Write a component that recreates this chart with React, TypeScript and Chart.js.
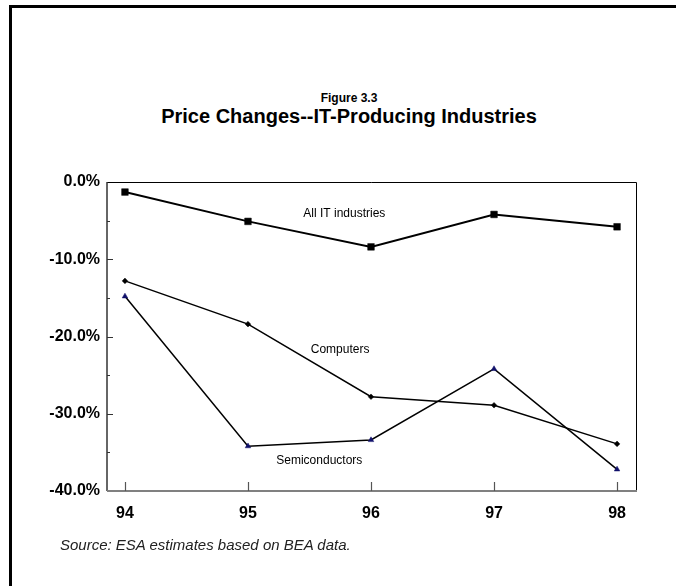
import React, { useEffect, useRef } from "react";
import { Chart, registerables } from "chart.js";

Chart.register(...registerables);

// ---- data ----
const years = [94, 95, 96, 97, 98];
const allIT = [-1.3, -5.1, -8.4, -4.2, -5.8];
const computers = [-12.8, -18.4, -27.8, -28.9, -33.9];
const semiconductors = [-14.8, -34.2, -33.4, -24.2, -37.2];
const yTickValues = [0, -10, -20, -30, -40];
const yMinorTicks = [-5, -15, -25, -35];
const seriesNames = ["All IT industries", "Computers", "Semiconductors"];

const FONT = "'Liberation Sans', Arial, Helvetica, sans-serif";

const decorPlugin = {
  id: "decor",
  beforeDatasetsDraw(chart: any) {
    const { ctx, chartArea: a, scales } = chart;
    const xs = scales.x;
    const ys = scales.y;
    ctx.save();
    // top & right frame of plot
    ctx.strokeStyle = "#000";
    ctx.lineWidth = 1;
    ctx.beginPath();
    ctx.moveTo(a.left, Math.round(a.top) + 0.5);
    ctx.lineTo(Math.round(a.right) + 0.5, Math.round(a.top) + 0.5);
    ctx.lineTo(Math.round(a.right) + 0.5, a.bottom);
    ctx.stroke();
    // y axis line
    ctx.strokeStyle = "#333";
    ctx.lineWidth = 1.5;
    ctx.beginPath();
    ctx.moveTo(a.left, a.top);
    ctx.lineTo(a.left, a.bottom);
    ctx.stroke();
    // y ticks (inside)
    ctx.lineWidth = 1;
    const drawYTick = (v: number, len: number) => {
      const py = Math.round(ys.getPixelForValue(v)) + 0.5;
      ctx.beginPath();
      ctx.moveTo(a.left, py);
      ctx.lineTo(a.left + len, py);
      ctx.stroke();
    };
    yTickValues.forEach((v) => { if (v !== 0) drawYTick(v, 6); });
    yMinorTicks.forEach((v) => drawYTick(v, 3));
    // x axis line (gray)
    ctx.strokeStyle = "#808080";
    ctx.lineWidth = 2;
    ctx.beginPath();
    ctx.moveTo(a.left, a.bottom);
    ctx.lineTo(a.right + 1, a.bottom);
    ctx.stroke();
    // x ticks (inside)
    ctx.strokeStyle = "#555";
    ctx.lineWidth = 1.2;
    years.forEach((yr) => {
      const px = Math.round(xs.getPixelForValue(yr)) + 0.5;
      ctx.beginPath();
      ctx.moveTo(px, a.bottom - 9);
      ctx.lineTo(px, a.bottom);
      ctx.stroke();
    });
    ctx.restore();
  },
  afterDatasetsDraw(chart: any, _args: any, opts: any) {
    const { ctx, scales } = chart;
    ctx.save();
    ctx.fillStyle = "#000";
    ctx.font = `12px ${FONT}`;
    ctx.textAlign = "left";
    ctx.textBaseline = "middle";
    (opts.labels || []).forEach((l: any) => {
      ctx.fillText(l.text, scales.x.getPixelForValue(l.x), scales.y.getPixelForValue(l.y));
    });
    ctx.restore();
  },
};

export default function App() {
  const canvasRef = useRef<HTMLCanvasElement | null>(null);

  useEffect(() => {
    const canvas = canvasRef.current;
    if (!canvas) return;
    const toPts = (arr: number[]) => years.map((yr, i) => ({ x: yr, y: arr[i] }));
    const chart = new Chart(canvas, {
      type: "line",
      data: {
        datasets: [
          {
            label: seriesNames[0],
            data: toPts(allIT),
            borderColor: "#000",
            backgroundColor: "#000",
            borderWidth: 2,
            pointStyle: "rect",
            pointRadius: 4.7,
            pointBorderWidth: 0.5,
            pointBackgroundColor: "#000",
            pointBorderColor: "#000",
            tension: 0,
          },
          {
            label: seriesNames[1],
            data: toPts(computers),
            borderColor: "#000",
            backgroundColor: "#000",
            borderWidth: 1.5,
            pointStyle: "rectRot",
            pointRadius: 2.8,
            pointBorderWidth: 0.5,
            pointBackgroundColor: "#000",
            pointBorderColor: "#000",
            tension: 0,
          },
          {
            label: seriesNames[2],
            data: toPts(semiconductors),
            borderColor: "#000",
            backgroundColor: "#000080",
            borderWidth: 1.5,
            pointStyle: "triangle",
            pointRadius: 3.2,
            pointBorderWidth: 0.5,
            pointBackgroundColor: "#10106a",
            pointBorderColor: "#10106a",
            tension: 0,
          },
        ],
      },
      options: {
        responsive: false,
        animation: false,
        events: [],
        layout: { padding: { top: 182, right: 40, bottom: 55, left: 0 } },
        plugins: {
          legend: { display: false },
          tooltip: { enabled: false },
          title: { display: false },
          decor: {
            labels: [
              { text: seriesNames[0], x: 95.45, y: -4.15 },
              { text: seriesNames[1], x: 95.51, y: -21.75 },
              { text: seriesNames[2], x: 95.23, y: -36.1 },
            ],
          },
        } as any,
        scales: {
          x: {
            type: "linear",
            min: 93.854,
            max: 98.154,
            grid: { display: false, drawTicks: false },
            border: { display: false },
            afterBuildTicks: (s: any) => {
              s.ticks = years.map((v) => ({ value: v }));
            },
            afterFit: (s: any) => {
              s.height = 40;
            },
            ticks: {
              autoSkip: false,
              maxRotation: 0,
              padding: 13,
              color: "#000",
              font: { family: FONT, size: 16, weight: "bold" },
              callback: (v: any) => String(v),
            },
          },
          y: {
            type: "linear",
            min: -40,
            max: 0,
            grid: { display: false, drawTicks: false },
            border: { display: false },
            afterBuildTicks: (s: any) => {
              s.ticks = yTickValues.map((v) => ({ value: v }));
            },
            afterFit: (s: any) => {
              s.width = 107;
            },
            ticks: {
              padding: 7,
              color: "#000",
              font: { family: FONT, size: 16, weight: "bold" },
              callback: (v: any) => Number(v).toFixed(1) + "%",
            },
          },
        },
      },
      plugins: [decorPlugin],
    });
    return () => chart.destroy();
  }, []);

  return (
    <div
      style={{
        position: "absolute",
        left: 0,
        top: 0,
        width: 676,
        height: 586,
        overflow: "hidden",
        background: "#fff",
        fontFamily: FONT,
      }}
    >
      <div
        style={{
          position: "absolute",
          left: 9,
          top: 5,
          width: 800,
          height: 800,
          borderTop: "3px solid #000",
          borderLeft: "3px solid #000",
        }}
      />
      <div
        style={{
          position: "absolute",
          left: 0,
          width: 698,
          top: 92,
          fontSize: 12,
          lineHeight: "12px",
          fontWeight: "bold",
          textAlign: "center",
          color: "#000",
        }}
      >
        Figure 3.3
      </div>
      <div
        style={{
          position: "absolute",
          left: 0,
          width: 698,
          top: 106,
          fontSize: 20,
          lineHeight: "20px",
          fontWeight: "bold",
          textAlign: "center",
          color: "#000",
        }}
      >
        Price Changes--IT-Producing Industries
      </div>
      <canvas
        ref={canvasRef}
        width={676}
        height={586}
        style={{ position: "absolute", left: 0, top: 0, width: 676, height: 586 }}
      />
      <div
        style={{
          position: "absolute",
          left: 60,
          top: 537,
          fontSize: 15,
          lineHeight: "16px",
          fontStyle: "italic",
          color: "#222",
        }}
      >
        Source: ESA estimates based on BEA data.
      </div>
    </div>
  );
}
